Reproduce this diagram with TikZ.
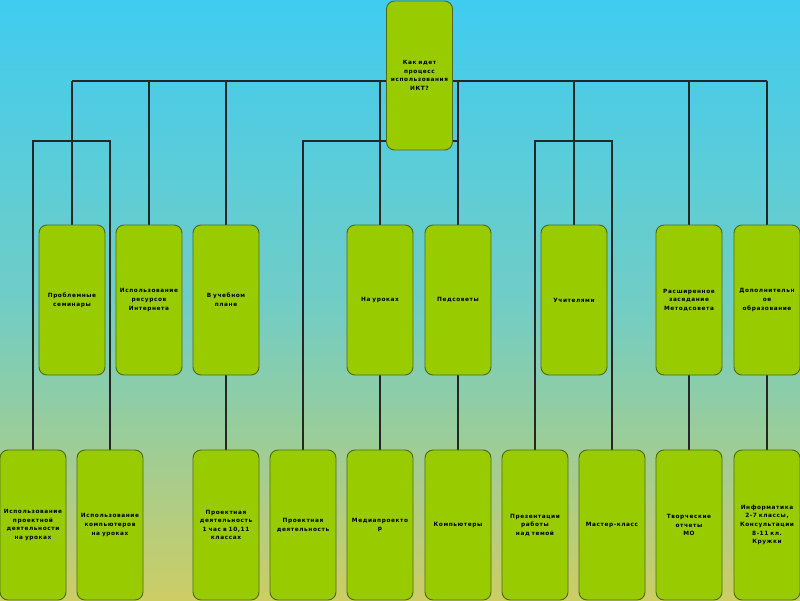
\documentclass[tikz,border=0pt]{standalone}
\usepackage{fontspec}
\setmainfont{DejaVu Sans}
\newfontfamily\boxfont[LetterSpace=10]{DejaVu Sans}
\usetikzlibrary{backgrounds}
\definecolor{boxgreen}{RGB}{153,204,0}
\definecolor{boxline}{RGB}{80,105,20}
\definecolor{skytop}{RGB}{64,204,240}
\definecolor{skymid}{RGB}{112,205,198}
\definecolor{skybot}{RGB}{205,205,100}
\tikzset{
	block/.style = {draw=boxline, fill=boxgreen, line width=0.9pt, rounded corners=8pt,
		minimum width=66pt, minimum height=150pt, text width=64pt, align=center,
		inner sep=1pt, font=\boxfont\fontsize{5.8}{8.6}\selectfont\bfseries},
	link/.style = {line width=1.4pt, black!85}
}

\begin{document}
\begin{tikzpicture}[x=1pt, y=-1pt]
	\useasboundingbox (0,0) rectangle (800,600);
	% question on top
	\node[block, minimum width=65pt, minimum height=149pt] (top) at (419.5,75.5) {Как идет\\процесс\\использования\\ИКТ?};
	% middle row
	\foreach \x/\t [count=\n] in {72/{Проблемные\\семинары}, 149/{Использование\\ресурсов\\Интернета},
		226/{В учебном\\плане}, 380/{На уроках}, 458/{Педсоветы}, 574/{Учителями},
		689/{Расширенное\\заседание\\Методсовета}, 767/{Дополнительн\\ое\\образование}}
		\node[block] (m\n) at (\x,300) {\t};
	% bottom row
	\foreach \x/\t [count=\n] in {33/{Использование\\проектной\\деятельности\\на уроках},
		110/{Использование\\компьютеров\\на уроках}, 226/{Проектная\\деятельность\\1 час в 10,11\\классах},
		303/{Проектная\\деятельность}, 380/{Медиапроекто\\р}, 458/{Компьютеры},
		535/{Презентации\\работы\\над темой}, 612/{Мастер-класс}, 689/{Творческие\\отчеты\\МО},
		767/{Информатика\\2-7 классы,\\Консультации\\8-11 кл.\\Кружки}}
		\node[block] (b\n) at (\x,525) {\t};
	\begin{pgfonlayer}{background}
		\shade[top color=skytop, bottom color=skybot, middle color=skymid] (0,0) rectangle (800,600);
		\coordinate (bus) at (0,81);
		\coordinate (fork) at (0,141);
		\draw[link, line width=2pt] (m1.north |- bus) -- (m8.north |- bus);
		\foreach \n in {1,...,8}
			\draw[link] (m\n.north |- bus) -- (m\n.north);
		\draw[link] (b1.north) |- (b2.north |- fork) -- (b2.north);
		\draw[link] (b4.north) |- (b6.north |- fork);
		\draw[link] (b7.north) |- (b8.north |- fork) -- (b8.north);
		\foreach \u/\d in {3/3, 4/5, 5/6, 7/9, 8/10}
			\draw[link] (m\u.south) -- (b\d.north);
	\end{pgfonlayer}
\end{tikzpicture}
\end{document}
